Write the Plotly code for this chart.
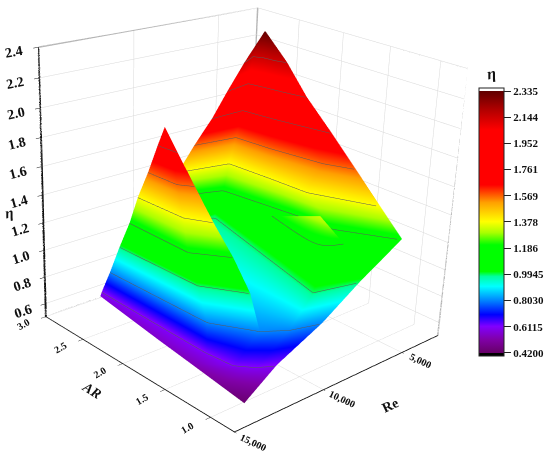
import plotly.graph_objects as go

FONT = "Liberation Serif"
PAGE_H = 1052   # the 3D view has a fixed 45 degree lens, so it needs this height
PAGE_TOP = 295  # part of the tall figure pushed above the window

# values: rows run from the low edge up to the peak
AR_MAIN = [
    [2.87, 2.03, 1.65, 1.31, 0.98],
    [2.86, 1.54, 1.26, 1.14, 1.07],
    [2.74, 1.59, 1.24, 1.11, 1.03],
    [2.71, 2.70, 1.87, 1.13, 1.03],
    [2.87, 2.68, 1.90, 1.53, 1.04],
    [2.79, 2.69, 2.23, 1.82, 1.25],
    [2.74, 2.68, 2.31, 1.79, 1.54],
    [2.67, 2.68, 2.38, 2.11, 1.82],
    [2.62, 2.68, 2.52, 2.32, 2.12],
    [2.59, 2.68, 2.61, 2.49, 2.39],
    [2.63, 2.63, 2.63, 2.63, 2.63],
]
RE_MAIN = [
    [12487, 12817, 12929, 13091, 13280],
    [12446, 12557, 12399, 11755, 10997],
    [12479, 12322, 11154, 10120, 8619],
    [11948, 6401, 7610, 8677, 6385],
    [8823, 6005, 5373, 5206, 3688],
    [8314, 5618, 5449, 5344, 3972],
    [7583, 5298, 5081, 4558, 3931],
    [6890, 4921, 4648, 4317, 3950],
    [6250, 4635, 4426, 4218, 3938],
    [5399, 4397, 4130, 4025, 3803],
    [3969, 3969, 3969, 3969, 3969],
]
ETA_MAIN = [
    [0.58, 0.54, 0.52, 0.51, 0.505],
    [0.615] * 5,
    [0.807] * 5,
    [0.998] * 5,
    [1.19] * 5,
    [1.382] * 5,
    [1.573] * 5,
    [1.765] * 5,
    [1.956] * 5,
    [2.148] * 5,
    [2.33] * 5,
]
# colour values differ from the height only along the low edge
COLOR_MAIN = [[0.58, 0.56, 0.54, 0.50, 0.44]] + ETA_MAIN[1:]

AR_FLAP = [
    [2.74, 1.59, 1.24],
    [2.69, 1.77, 1.42],
    [2.61, 1.90, 1.62],
    [2.56, 2.03, 1.82],
    [2.48, 2.15, 2.04],
    [2.43, 2.28, 2.22],
    [2.37, 2.37, 2.37],
]
RE_FLAP = [
    [12479, 12322, 11154],
    [12153, 12036, 10815],
    [11944, 11968, 10822],
    [11705, 11625, 10984],
    [11506, 11436, 10983],
    [11213, 11141, 11120],
    [11120, 11120, 11120],
]
ETA_FLAP = [[0.807] * 3, [0.998] * 3, [1.19] * 3, [1.382] * 3, [1.573] * 3, [1.765] * 3, [1.9] * 3]

AR_PATCH = [[2.04, 1.48], [1.31, 1.26]]
RE_PATCH = [[6357, 6421], [7442, 6052]]
ETA_PATCH = [[1.18, 1.34], [1.18, 1.18]]

AR_RANGE = [0.75, 3.0]
RE_RANGE = [2500, 15000]
ETA_RANGE = [0.5, 2.4]
AR_TICKS = [1.0, 1.5, 2.0, 2.5, 3.0]
AR_LABELS = ["<b>1.0</b>", "<b>1.5</b>", "<b>2.0</b>", "<b>2.5</b>", "<b>3.0</b>"]
RE_TICKS = [5000, 10000, 15000]
RE_LABELS = ["<b>5,000</b>", "<b>10,000</b>", "<b>15,000</b>"]
ETA_TICKS = [0.6, 0.8, 1.0, 1.2, 1.4, 1.6, 1.8, 2.0, 2.2, 2.4]
ETA_LABELS = ["<b>0.6</b>", "<b>0.8</b>", "<b>1.0</b>", "<b>1.2</b>", "<b>1.4</b>",
              "<b>1.6</b>", "<b>1.8</b>", "<b>2.0</b>", "<b>2.2</b>", "<b>2.4</b>"]

CBAR_TICKS = [0.42, 0.6115, 0.803, 0.9945, 1.186, 1.378, 1.569, 1.761, 1.952, 2.144, 2.335]
CBAR_LABELS = ["<b>0.4200</b>", "<b>0.6115</b>", "<b>0.8030</b>", "<b>0.9945</b>", "<b>1.186</b>", "<b>1.378</b>",
               "<b>1.569</b>", "<b>1.761</b>", "<b>1.952</b>", "<b>2.144</b>", "<b>2.335</b>"]

CMIN, CMAX = 0.398, 2.357
COLOR_VALUES = [0.398, 0.418, 0.4181, 0.52, 0.615, 0.70, 0.80, 0.907, 0.98, 1.016, 1.21, 1.30, 1.38,
                1.52, 1.649, 2.05, 2.20, 2.335, 2.3351, 2.357]
COLOR_HEX = ["#000000", "#000000", "#660066", "#8000a8", "#8000ff", "#0000ff", "#0080ff", "#00ffff", "#00ffa0",
             "#00ff00", "#00ff00", "#aaff00", "#ffff00", "#ffa000", "#ff0000", "#ff0000", "#b00000", "#600000",
             "#ffffff", "#ffffff"]
COLORSCALE = [[(v - CMIN) / (CMAX - CMIN), c] for v, c in zip(COLOR_VALUES, COLOR_HEX)]

# grey frame of the two back walls
FRAME_AR = [3.0, 3.0, 3.0, 3.0, 0.75, 0.75]
FRAME_RE = [15000, 2500, 2500, 2500, 2500, 2500]
FRAME_ETA = [2.4, 2.4, 0.5, 2.4, 2.4, 0.5]
FLOOR_AR = [3.0, 3.0, 0.75]
FLOOR_RE = [15000, 2500, 2500]
FLOOR_ETA = [0.5, 0.5, 0.5]
# black axis lines: eta, AR, Re
BLACK_AR = [3.0, 3.0, 0.75, 0.75]
BLACK_RE = [15000, 15000, 15000, 2500]
BLACK_ETA = [2.4, 0.5, 0.5, 0.5]

FLAT = dict(ambient=1, diffuse=0, specular=0, roughness=1, fresnel=0)
CONTOUR = dict(show=True, start=0.6115, end=2.2, size=0.1915, color="#5a5a5a", width=1)


def paper_x(px):
    return px / 550


def paper_y(py):
    return 1 - (py + PAGE_TOP) / PAGE_H


def eta_surface(ar, re, eta, color=None, bar=False):
    return go.Surface(
        x=ar, y=re, z=eta, surfacecolor=color if color else eta,
        cmin=CMIN, cmax=CMAX, colorscale=COLORSCALE,
        showscale=bar, lighting=FLAT, hoverinfo="skip",
        contours=dict(z=CONTOUR),
        colorbar=dict(
            x=paper_x(479), xanchor="left", xpad=0,
            y=paper_y(222), yanchor="middle", ypad=0,
            len=268, lenmode="pixels", thickness=25,
            tickvals=CBAR_TICKS, ticktext=CBAR_LABELS,
            ticks="outside", ticklen=7, tickcolor="#222222", tickwidth=1,
            tickfont=dict(family=FONT, size=11, color="#111111"),
            outlinecolor="#222222", outlinewidth=1,
        ),
    )


def line3d(ar, re, eta, color, width):
    return go.Scatter3d(x=ar, y=re, z=eta, mode="lines", line=dict(color=color, width=width),
                        hoverinfo="skip", showlegend=False)


fig = go.Figure()
fig.add_trace(line3d(FRAME_AR, FRAME_RE, FRAME_ETA, "#b4b4b4", 3))
fig.add_trace(line3d(FLOOR_AR, FLOOR_RE, FLOOR_ETA, "#8c8c8c", 3))
fig.add_trace(line3d(BLACK_AR, BLACK_RE, BLACK_ETA, "#111111", 4))
fig.add_trace(eta_surface(AR_MAIN, RE_MAIN, ETA_MAIN, COLOR_MAIN, bar=True))
fig.add_trace(eta_surface(AR_FLAP, RE_FLAP, ETA_FLAP))
fig.add_trace(eta_surface(AR_PATCH, RE_PATCH, ETA_PATCH))

axis_style = dict(
    showbackground=False, showgrid=True, gridcolor="#d8d8d8", gridwidth=1, zeroline=False,
    showline=True, linecolor="#111111", linewidth=2, ticks="outside", tickcolor="#111111",
    showspikes=False, title=dict(text=""),
)
fig.update_layout(
    width=550, height=PAGE_H,
    margin=dict(l=0, r=0, t=0, b=0, pad=0, autoexpand=False),
    paper_bgcolor="white",
    showlegend=False,
    scene=dict(
        domain=dict(x=[0, 1], y=[0, 1]),
        aspectmode="manual",
        aspectratio=dict(x=1, y=0.9952, z=0.9931),
        camera=dict(
            eye=dict(x=-2.9169, y=2.8249, z=1.6247),
            center=dict(x=-0.2653, y=0.1258, z=0),
            up=dict(x=0.0282, y=0.0382, z=1),
        ),
        xaxis=dict(range=AR_RANGE, tickvals=AR_TICKS, ticktext=AR_LABELS, tickangle=-30, ticklen=2,
                   tickfont=dict(family=FONT, size=11, color="#111111"), **axis_style),
        yaxis=dict(range=RE_RANGE, tickvals=RE_TICKS, ticktext=RE_LABELS, tickangle=25, ticklen=5,
                   tickfont=dict(family=FONT, size=11, color="#111111"), **axis_style),
        zaxis=dict(range=ETA_RANGE, tickvals=ETA_TICKS, ticktext=ETA_LABELS, ticklen=3,
                   tickfont=dict(family=FONT, size=13, color="#111111"), **axis_style),
    ),
)

# axis titles sit where the reference puts them
for text, px, py, angle, size in [
    ("<b><i>AR</i></b>", 92, 390, 32, 14),
    ("<b>Re</b>", 390, 405, -25, 14),
    ("<b><i>η</i></b>", 9, 213, -10, 15),
    ("<b><i>η</i></b>", 491, 74, -10, 16),
]:
    fig.add_annotation(text=text, x=paper_x(px), y=paper_y(py), xref="paper", yref="paper",
                       xanchor="center", yanchor="middle", showarrow=False, textangle=angle,
                       font=dict(family=FONT, size=size, color="#111111"))

shift = ("var gd=document.getElementById('{plot_id}');"
         "document.documentElement.style.overflow='hidden';"
         "document.body.style.overflow='hidden';"
         "document.body.style.margin='0';"
         "gd.style.marginTop='-%dpx';" % PAGE_TOP)
fig.write_html("out.html", post_script=shift)
